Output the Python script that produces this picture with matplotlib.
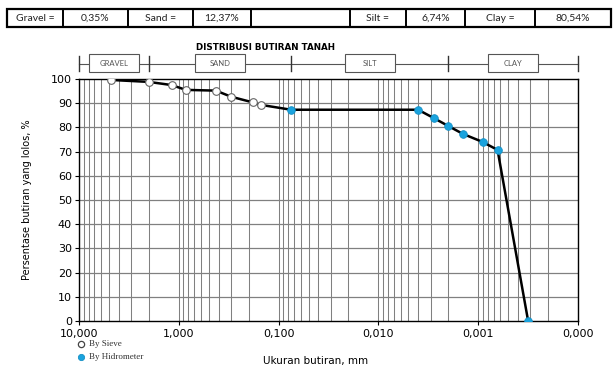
import matplotlib.pyplot as plt
import matplotlib.transforms as mtransforms
from matplotlib.patches import Rectangle
import numpy as np

# sieve analysis (open markers)
sieve_size = [4.75, 2.0, 1.18, 0.85, 0.425, 0.30, 0.18, 0.15]
sieve_pass = [99.6, 98.8, 97.5, 95.5, 95.2, 92.7, 90.3, 89.3]

# hydrometer analysis (blue markers)
hydro_size = [0.075, 0.004, 0.0028, 0.0020, 0.00142, 0.000905, 0.00064, 0.000316]
hydro_pass = [87.3, 87.3, 83.9, 80.6, 77.3, 74.0, 70.7, 0.0]

# summary row on top
summary_cells = ["Gravel =", "0,35%", "Sand =", "12,37%", "", "Silt =", "6,74%", "Clay =", "80,54%"]

# soil classes and their boundaries (mm)
class_names = ["GRAVEL", "SAND", "SILT", "CLAY"]
class_bounds = [10, 2.0, 0.075, 0.002, 0.0001]

x_ticks = [10, 1, 0.1, 0.01, 0.001, 0.0001]
x_tick_labels = ["10,000", "1,000", "0,100", "0,010", "0,001", "0,000"]

fig = plt.figure(figsize=(6.14, 3.67), dpi=100)
ax = fig.add_axes([79/614, 1 - 321/367, 499/614, 242/367])

# log grid: every 1..9 inside each decade
grid_x = []
for d in range(-4, 1):
    for m in range(1, 10):
        grid_x.append(m * 10.0**d)
grid_x.append(10)
for gx in grid_x:
    ax.axvline(gx, color="#808080", lw=0.75, zorder=1)
for gy in range(10, 100, 10):
    ax.axhline(gy, color="#808080", lw=0.9, zorder=1)

# combined gradation curve
all_size = sieve_size + hydro_size
all_pass = sieve_pass + hydro_pass
ax.plot(all_size, all_pass, color="black", lw=1.8, zorder=3)
ax.plot(sieve_size, sieve_pass, "o", ms=5.5, mfc="white", mec="#666666", mew=0.8, zorder=4)
ax.plot(hydro_size, hydro_pass, "o", ms=5.5, mfc="#1aa3de", mec="#1590c5", mew=0.6, zorder=4)

ax.set_xscale("log")
ax.set_xlim(10, 0.0001)
ax.set_ylim(0, 100)
ax.set_xticks(x_ticks)
ax.set_xticklabels(x_tick_labels)
ax.xaxis.set_minor_locator(plt.NullLocator())
ax.set_yticks(range(0, 101, 10))
ax.tick_params(labelsize=8, length=3, width=0.8, pad=2, colors="black")
ax.tick_params(axis="x", pad=3)
for s in ax.spines.values():
    s.set_linewidth(1.0)
    s.set_color("black")

ax.set_ylabel("Persentase butiran yang lolos, %", fontsize=7, labelpad=14)
fig.text(316/614, 1 - 361/367, "Ukuran butiran, mm", fontsize=7.5, ha="center", va="center")

# classification bar above the plot
trans = mtransforms.blended_transform_factory(ax.transData, ax.transAxes)
ax.plot([10, 0.0001], [1.062, 1.062], color="#555555", lw=0.8, transform=trans, clip_on=False)
for b in class_bounds:
    ax.plot([b, b], [1.032, 1.095], color="#333333", lw=1.0, transform=trans, clip_on=False)
box_half = 10 ** 0.25
for i, name in enumerate(class_names):
    xc = np.sqrt(class_bounds[i] * class_bounds[i + 1])
    ax.add_patch(Rectangle((xc / box_half, 1.029), xc * box_half - xc / box_half, 0.074,
                           transform=trans, fc="white", ec="#555555", lw=0.8, clip_on=False, zorder=5))
    ax.text(xc, 1.066, name, transform=trans, ha="center", va="center", fontsize=5.5,
            family="Lato", color="#555555", zorder=6)

fig.text(265/614, 1 - 47/367, "DISTRIBUSI BUTIRAN TANAH", fontsize=6.3, fontweight="bold",
         ha="center", va="center")

# overlay axes in pixel units for legend and summary table
ax_o = fig.add_axes([0, 0, 1, 1], facecolor="none")
ax_o.set_xlim(0, 614)
ax_o.set_ylim(367, 0)
ax_o.axis("off")
ax_o.plot([81], [344], "o", ms=4.5, mfc="white", mec="#444444", mew=0.9)
ax_o.plot([81], [357], "o", ms=4.5, mfc="#1aa3de", mec="#1590c5", mew=0.6)
ax_o.text(89, 344, "By Sieve", fontsize=6.5, family="Liberation Serif", va="center", color="#333333")
ax_o.text(89, 357, "By Hidrometer", fontsize=6.5, family="Liberation Serif", va="center", color="#333333")

# summary table
edges = [7, 63, 128, 193, 251, 350, 406, 465, 535, 611]
top, bot = 9, 27
ax_o.add_patch(Rectangle((edges[0], top), edges[-1] - edges[0], bot - top,
                         fill=False, ec="black", lw=1.6))
for e in edges[1:-1]:
    ax_o.plot([e, e], [top, bot], color="black", lw=1.4)
for i, txt in enumerate(summary_cells):
    ax_o.text((edges[i] + edges[i + 1]) / 2, (top + bot) / 2 + 0.5, txt, fontsize=7.5,
              family="Lato", ha="center", va="center", color="#222222")

fig.savefig("out.png", dpi=100)
